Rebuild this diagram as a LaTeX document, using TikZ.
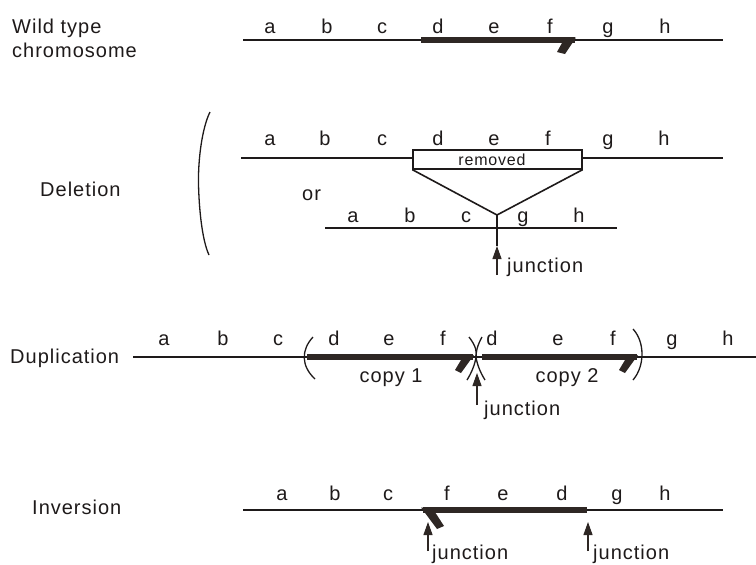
\documentclass[tikz,border=0pt]{standalone}
\usepackage{fontspec}
\setmainfont{Liberation Sans}[LetterSpace=5]
\usetikzlibrary{arrows.meta}
\definecolor{barcol}{HTML}{2E2724}
\definecolor{ink}{HTML}{1E1A1A}
\begin{document}
\begin{tikzpicture}[x=1pt,y=-1pt,
  lbl/.style={anchor=base,inner sep=0pt,text=ink,font=\fontsize{20}{22}\selectfont},
  ttl/.style={anchor=base west,inner sep=0pt,text=ink,font=\fontsize{20}{22}\selectfont},
  chrom/.style={line width=1.4pt,ink},
  thickbar/.style={line width=5.5pt,draw=barcol},
  hookfill/.style={fill=barcol,draw=none},
  jarrow/.style={line width=1.1pt,-{Triangle[length=13pt,width=9pt]},barcol},
  paren/.style={line width=1.3pt,ink}]
\useasboundingbox (0,0) rectangle (756,565);

% ---------- Wild type ----------
\node[ttl] (wt1) at (12,33) {Wild type};
\node[ttl] (wt2) at (12,57) {chromosome};
\coordinate (wtL) at (243,40);
\coordinate (wtR) at (723,40);
\draw[chrom] (wtL) -- (wtR);
\coordinate (wtB1) at (421,40);
\coordinate (wtB2) at (575,40);
\draw[thickbar] (wtB1) -- (wtB2);
\fill[hookfill] (565,37.5) -- (576,37.5) -- (565,54) -- (557,52) -- cycle;
\foreach \l/\x in {a/270,b/327,c/382,d/438,e/494,f/550,g/608,h/665}
  \node[lbl] (wt-\l) at (\x,33) {\l};

% ---------- Deletion ----------
\node[ttl] (del) at (40,196) {Deletion};
\draw[paren] (210,112) .. controls (202,128) and (198,160) .. (198.5,184) .. controls (199,208) and (202,240) .. (209,255);
\coordinate (dL) at (241,158);
\coordinate (dR) at (723,158);
\draw[chrom] (dL) -- (dR);
\node[draw=ink,fill=white,line width=1.3pt,minimum width=169pt,minimum height=19pt,inner sep=0pt] (rem) at (497.5,159.5) {};
\node[anchor=base,inner sep=0pt,text=ink,font=\fontsize{16}{18}\selectfont] (remtxt) at (492,165) {removed};
\foreach \l/\x in {a/270,b/325,c/382,d/438,e/494,f/548,g/608,h/664}
  \node[lbl] (dt-\l) at (\x,145) {\l};
\coordinate (apex) at (497,215);
\draw[line width=1.6pt,ink] (rem.south west) -- (apex) -- (rem.south east);
\node[ttl] (or) at (302,200) {or};
\coordinate (dbL) at (325,228);
\coordinate (dbR) at (617,228);
\draw[chrom] (dbL) -- (dbR);
\foreach \l/\x in {a/353,b/410,c/466,g/523,h/579}
  \node[lbl] (db-\l) at (\x,222) {\l};
\coordinate (dTip) at (497,246);
\coordinate (dBot) at (497,275);
\draw[line width=1.2pt,ink] (apex) -- (dTip);
\draw[jarrow] (dBot) -- (dTip);
\node[ttl] (dj) at (507,272) {junction};

% ---------- Duplication ----------
\node[ttl] (dup) at (10,363) {Duplication};
\coordinate (uL) at (133,357);
\coordinate (uR) at (756,357);
\draw[chrom] (uL) -- (uR);
\coordinate (c1a) at (307,357);
\coordinate (c1b) at (473,357);
\coordinate (c2a) at (482,357);
\coordinate (c2b) at (637,357);
\draw[thickbar] (c1a) -- (c1b);
\draw[thickbar] (c2a) -- (c2b);
\fill[hookfill] (464,355) -- (474,355) -- (461,373) -- (455,370) -- cycle;
\fill[hookfill] (628,355) -- (638,355) -- (625,373) -- (619,370) -- cycle;
% brackets
\draw[paren] (313,337) .. controls (301,350) and (301,366) .. (315,379);
\draw[paren] (469,337) .. controls (476,346) and (477,352) .. (476,357) .. controls (475,364) and (472,372) .. (467,380);
\draw[paren] (482,337) .. controls (477,346) and (476,352) .. (476,357) .. controls (477,364) and (480,372) .. (485,380);
\draw[paren] (633,329) .. controls (645,342) and (645,366) .. (633,380);
\foreach \n/\l/\x in {1/a/164,2/b/223,3/c/278,4/d/334,5/e/389,6/f/443,7/d/492,8/e/558,9/f/613,10/g/672,11/h/728}
  \node[lbl] (du-\n) at (\x,345) {\l};
\node[lbl] (cp1) at (391,382) {copy 1};
\node[lbl] (cp2) at (567,382) {copy 2};
\coordinate (uTip) at (477,373);
\coordinate (uBot) at (477,405);
\draw[jarrow] (uBot) -- (uTip);
\node[ttl] (uj) at (484,415) {junction};

% ---------- Inversion ----------
\node[ttl] (inv) at (32,514) {Inversion};
\coordinate (iL) at (243,510);
\coordinate (iR) at (723,510);
\draw[chrom] (iL) -- (iR);
\coordinate (iB1) at (423,510);
\coordinate (iB2) at (587,510);
\draw[thickbar] (iB1) -- (iB2);
\fill[hookfill] (421,507.5) -- (432,507.5) -- (444,526) -- (437,529) -- cycle;
\foreach \l/\x in {a/282,b/335,c/388,f/447,e/503,d/562,g/617,h/665}
  \node[lbl] (iv-\l) at (\x,500) {\l};
\coordinate (iTip1) at (428,522);
\coordinate (iBot1) at (428,551);
\coordinate (iTip2) at (588,522);
\coordinate (iBot2) at (588,551);
\draw[jarrow] (iBot1) -- (iTip1);
\draw[jarrow] (iBot2) -- (iTip2);
\node[ttl] (ij1) at (432,559) {junction};
\node[ttl] (ij2) at (593,559) {junction};
\end{tikzpicture}
\end{document}
